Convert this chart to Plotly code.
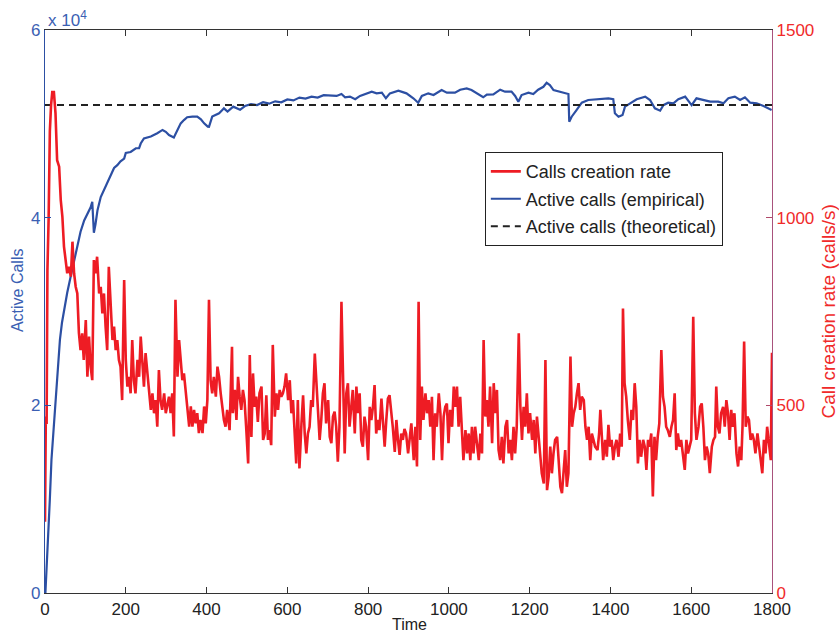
import plotly.graph_objects as go

# ---------------- data ----------------
rate_time = [0, 2, 4, 6, 9, 12, 15, 18, 22, 26, 30, 35, 39, 43, 47, 51, 55, 59, 64, 68, 72, 76, 80, 84, 88, 92, 96, 101, 105, 109, 113, 117, 121, 125, 129, 134, 138, 142, 146, 150, 154, 158, 163, 167, 171, 175, 179, 183, 187, 191, 196, 200, 204, 208, 212, 216, 220, 224, 229, 233, 237, 241, 245, 249, 253, 257, 262, 266, 270, 274, 278, 282, 286, 290, 295, 299, 303, 307, 311, 315, 319, 323, 328, 332, 336, 340, 344, 348, 352, 357, 361, 365, 369, 373, 377, 381, 385, 390, 394, 398, 402, 406, 410, 414, 418, 423, 427, 431, 435, 439, 443, 447, 451,
             457, 463, 465, 470, 474, 478, 482, 486, 490, 494, 498, 503, 507, 511, 515, 519, 523, 527, 531, 536, 540, 544, 548, 552, 556, 560, 564, 569, 573, 577, 581, 585, 589, 593, 597, 602, 606, 610, 614, 618, 622, 626, 630, 635, 639, 643, 647, 651, 655, 659, 663, 668, 672, 676, 680, 684, 688, 692, 696, 701, 705, 709, 713, 717, 721, 725, 729, 734, 738, 742, 746, 750, 754, 758, 762, 767, 771, 775, 779, 783, 787, 791, 795, 800, 804, 808, 812, 816, 820, 824, 828, 833, 837, 841, 845, 849, 853, 857, 861, 866, 870, 874, 878, 882, 886, 890, 894, 899, 903, 907,
             913, 917, 921, 925, 929, 933, 937, 942, 946, 950, 954, 958, 962, 966, 970, 975, 979, 983, 987, 991, 995, 999, 1003, 1008, 1012, 1016, 1020, 1024, 1028, 1032, 1036, 1041, 1045, 1049, 1053, 1057, 1061, 1065, 1069, 1074, 1078, 1082, 1086, 1090, 1094, 1098, 1102, 1107, 1111, 1115, 1119, 1123, 1127, 1131, 1135, 1140, 1144, 1148, 1152, 1156, 1160, 1164, 1168, 1173, 1177, 1181, 1185, 1189, 1193, 1197, 1201, 1206, 1210, 1214, 1218, 1222, 1226, 1230, 1235, 1239, 1243, 1247, 1251, 1255, 1259, 1263, 1268, 1272, 1276, 1280, 1284, 1288, 1292, 1296, 1301, 1305, 1309, 1313, 1317, 1321, 1325, 1329, 1334, 1338, 1342, 1346, 1350, 1354, 1358, 1362,
             1368, 1372, 1375, 1379, 1382, 1387, 1391, 1395, 1399, 1403, 1407, 1411, 1415, 1420, 1424, 1428, 1431, 1435, 1439, 1443, 1448, 1452, 1456, 1460, 1464, 1468, 1472, 1476, 1481, 1485, 1489, 1493, 1497, 1501, 1505, 1509, 1513, 1517, 1521, 1526, 1530, 1534, 1538, 1542, 1547, 1551, 1555, 1559, 1563, 1567, 1571, 1575, 1580, 1584, 1588, 1592, 1596, 1600, 1605, 1609, 1613, 1618, 1622, 1626, 1630, 1634, 1638, 1642, 1646, 1651, 1655, 1659, 1662, 1666, 1670, 1674, 1679, 1683, 1687, 1691, 1695, 1699, 1703, 1707, 1712, 1716, 1720, 1724, 1727, 1731, 1735, 1739, 1743, 1747, 1751, 1755, 1759, 1764, 1768, 1772, 1776, 1780, 1784, 1788, 1792, 1797, 1800]
rate_value = [190, 470, 450, 860, 1000, 1230, 1300, 1335, 1335, 1278, 1153, 1136, 1047, 1003, 923, 887, 852, 869, 843, 936, 852, 816, 798, 692, 647, 692, 621, 727, 576, 683, 603, 567, 887, 852, 896, 798, 816, 745, 798, 710, 647, 869, 745, 674, 710, 647, 674, 621, 603, 514, 834, 621, 550, 576, 532, 674, 567, 532, 621, 576, 683, 603, 550, 639, 594, 541, 488, 532, 479, 514, 443, 594, 514, 488, 532, 479, 497, 523, 479, 532, 417, 781, 576, 674, 621, 567, 585, 541, 488, 443, 497, 443, 488, 452, 479, 426, 461, 426, 497, 452, 514, 781, 567, 532, 576, 523, 603, 576, 532, 488, 461, 443, 488,
              434, 656, 479, 541, 461, 576, 523, 488, 541, 514, 443, 345, 634, 416, 585, 496, 523, 456, 532, 550, 408, 425, 527, 408, 434, 394, 661, 470, 532, 488, 541, 523, 532, 550, 585, 514, 567, 479, 514, 443, 345, 514, 332, 452, 527, 425, 372, 425, 443, 514, 496, 638, 567, 470, 408, 461, 532, 559, 452, 514, 416, 399, 470, 483, 443, 350, 443, 776, 567, 372, 532, 559, 443, 496, 541, 425, 550, 479, 532, 408, 390, 470, 443, 354, 496, 461, 496, 554, 425, 461, 434, 518, 443, 390, 461, 518, 527, 488, 443, 376, 461, 408, 368, 425, 408, 437, 425, 372, 408, 452,
              354, 443, 337, 776, 408, 550, 461, 532, 479, 514, 443, 523, 354, 479, 443, 532, 479, 354, 470, 496, 505, 399, 488, 443, 550, 496, 550, 443, 523, 443, 354, 434, 372, 425, 354, 443, 372, 443, 408, 354, 425, 372, 674, 470, 514, 443, 550, 399, 559, 479, 541, 381, 354, 416, 345, 443, 461, 372, 408, 354, 443, 372, 443, 692, 496, 408, 496, 443, 532, 425, 479, 408, 461, 372, 470, 425, 372, 319, 292, 621, 274, 310, 390, 319, 372, 408, 416, 354, 283, 266, 319, 381, 283, 319, 630, 443, 479, 496, 532, 559, 488, 523, 514, 443, 408, 443, 354, 425, 408, 390,
              381, 425, 488, 390, 354, 408, 363, 448, 390, 408, 354, 390, 408, 363, 425, 390, 758, 559, 523, 461, 408, 488, 461, 559, 496, 345, 408, 363, 408, 390, 328, 408, 390, 425, 257, 416, 354, 416, 452, 647, 523, 496, 443, 434, 416, 443, 461, 532, 381, 425, 390, 408, 354, 328, 408, 372, 390, 408, 736, 479, 408, 443, 496, 505, 443, 354, 390, 372, 319, 390, 408, 416, 550, 443, 425, 479, 496, 443, 514, 479, 408, 488, 443, 479, 372, 337, 390, 354, 443, 670, 443, 470, 461, 408, 425, 408, 372, 425, 390, 354, 319, 408, 372, 443, 408, 354, 640]

active_time = [1, 4, 8, 12, 16, 21, 25, 29, 33, 37, 42, 47, 55, 64, 72, 80, 88, 97, 105, 113, 117, 121, 125, 130, 138, 146, 154, 163, 171, 179, 187, 196, 200, 212, 225, 233, 237, 245, 262, 278, 291, 299, 307, 319, 328, 336, 344, 352, 365, 377, 386, 394, 403, 406, 414, 423, 431, 439, 443, 452, 466, 483, 495, 510, 525, 540, 555, 570, 585, 600, 615, 630, 645, 660, 675, 690,
               706, 722, 734, 743, 755, 768, 780, 792, 809, 821, 834, 844, 854, 875, 895, 912, 924, 933, 949, 962, 982, 995, 1015, 1028, 1044, 1056, 1069, 1085, 1094, 1110, 1127, 1139, 1155, 1164, 1172, 1180, 1197, 1209, 1221, 1234, 1242, 1250, 1259, 1275, 1296, 1298, 1304, 1316, 1329, 1345, 1362, 1378, 1395, 1407, 1411, 1420, 1430, 1436, 1448, 1465, 1486, 1498, 1510, 1523, 1531, 1543, 1556, 1568, 1585, 1601, 1613, 1630, 1647, 1667, 1680, 1692, 1708, 1721, 1733, 1746, 1762, 1779, 1799]
active_calls = [0, 2500, 5500, 10000, 14200, 17500, 20300, 22800, 25000, 27000, 28800, 30200, 32000, 33800, 35300, 36800, 38500, 39700, 40400, 41100, 41700, 38400, 39300, 40800, 42200, 42950, 43700, 44700, 45300, 45600, 46000, 46300, 46900, 47000, 47400, 47400, 47900, 48450, 48650, 49000, 49350, 49150, 48800, 48550, 49350, 50050, 50400, 50700, 50770, 50770, 50480, 50050, 49700, 49690, 50770, 50940, 51120, 51470, 51650, 51300, 51830, 51500, 51900, 52100, 52000, 52300, 52150, 52400, 52300, 52600, 52500, 52800, 52700, 52900, 52800, 53050,
                52970, 52970, 53180, 52830, 52900, 52620, 52970, 53180, 53430, 53250, 53320, 52720, 53250, 53530, 53250, 52720, 52250, 52970, 53250, 53070, 53600, 53320, 53320, 53640, 53780, 53600, 53250, 52830, 53110, 53140, 53640, 53430, 53430, 52970, 52360, 53070, 53320, 53180, 53640, 53950, 54380, 54140, 53600, 53430, 53180, 50230, 50760, 51470, 52250, 52540, 52620, 52720, 52720, 52620, 51120, 50760, 50940, 51830, 52190, 52620, 52900, 52540, 51650, 51400, 51990, 52250, 52190, 52620, 52900, 51990, 52720, 52540, 52360, 52360, 52190, 52720, 52900, 52540, 52830, 52250, 52190, 51900, 51470]

theory_time = [0, 1800]
theory_calls = [52000, 52000]

x_ticks = [0, 200, 400, 600, 800, 1000, 1200, 1400, 1600, 1800]
left_ticks = [0, 20000, 40000, 60000]
left_tick_text = ["0", "2", "4", "6"]
right_ticks = [0, 500, 1000, 1500]

# ---------------- style ----------------
FONT = "Liberation Sans, Arial, Helvetica, sans-serif"
RED = "#ee1c24"
BLUE = "#2c4fa3"
BLUE_TXT = "#3b5fb3"
RED_TXT = "#f02a2a"

fig = go.Figure()
fig.add_trace(go.Scatter(x=rate_time, y=rate_value, mode="lines", name="Calls creation rate",
                         legendgroup="a", line=dict(color=RED, width=2.6), yaxis="y2"))
fig.add_trace(go.Scatter(x=active_time, y=active_calls, mode="lines", name="Active calls (empirical)",
                         legendgroup="b", line=dict(color=BLUE, width=2.2)))
fig.add_trace(go.Scatter(x=theory_time, y=theory_calls, mode="lines", name="Active calls (theoretical)",
                         legendgroup="c", line=dict(color="#222222", width=2, dash="7px,5px")))

fig.update_layout(
    width=839, height=635,
    margin=dict(l=45, r=67, t=30, b=42, autoexpand=False),
    paper_bgcolor="white", plot_bgcolor="white",
    font=dict(family=FONT, size=16, color="#222222"),
    showlegend=True,
    legend=dict(x=0.605, y=0.783, xanchor="left", yanchor="top",
                bordercolor="#222222", borderwidth=1, bgcolor="white",
                font=dict(size=18, color="#222222"), traceorder="grouped",
                tracegroupgap=1),
    xaxis=dict(range=[0, 1800], tickvals=x_ticks, ticks="inside", ticklen=6,
               tickcolor="#333333", showline=True, linecolor="#333333", linewidth=1.2,
               mirror="ticks", showgrid=False, zeroline=False, automargin=False,
               tickfont=dict(size=17, color="#222222")),
    yaxis=dict(range=[0, 60000], tickvals=left_ticks, ticktext=left_tick_text,
               ticks="inside", ticklen=6, tickcolor=BLUE, showline=True, linecolor=BLUE,
               linewidth=1.2, showgrid=False, zeroline=False, automargin=False,
               tickfont=dict(size=17, color=BLUE_TXT)),
    yaxis2=dict(range=[0, 1500], tickvals=right_ticks, overlaying="y", side="right",
                ticks="inside", ticklen=6, tickcolor="#b04a6a", showline=True,
                linecolor="#a8527c", linewidth=1.2, showgrid=False, zeroline=False,
                automargin=False, tickfont=dict(size=17, color=RED_TXT)),
    annotations=[
        dict(text="x 10<sup>4</sup>", xref="paper", yref="paper", x=0.0, y=1.0,
             xanchor="left", yanchor="bottom", showarrow=False, xshift=1, yshift=-2,
             font=dict(size=17, color=BLUE_TXT)),
        dict(text="Active Calls", xref="paper", yref="paper", x=0.0, y=0.538,
             xanchor="center", yanchor="middle", textangle=-90, showarrow=False,
             xshift=-28, font=dict(size=16, color=BLUE_TXT)),
        dict(text="Call creation rate (calls/s)", xref="paper", yref="paper", x=1.0, y=0.5,
             xanchor="center", yanchor="middle", textangle=-90, showarrow=False,
             xshift=56, font=dict(size=19, color=RED_TXT)),
        dict(text="Time", xref="paper", yref="paper", x=0.502, y=0.0,
             xanchor="center", yanchor="top", showarrow=False, yshift=-21,
             font=dict(size=16, color="#222222")),
    ],
)

# remove the default 8px page margin so the figure fills the window exactly
fig.write_html("out.html", config={"displayModeBar": False},
               post_script="document.body.style.margin='0px';")
